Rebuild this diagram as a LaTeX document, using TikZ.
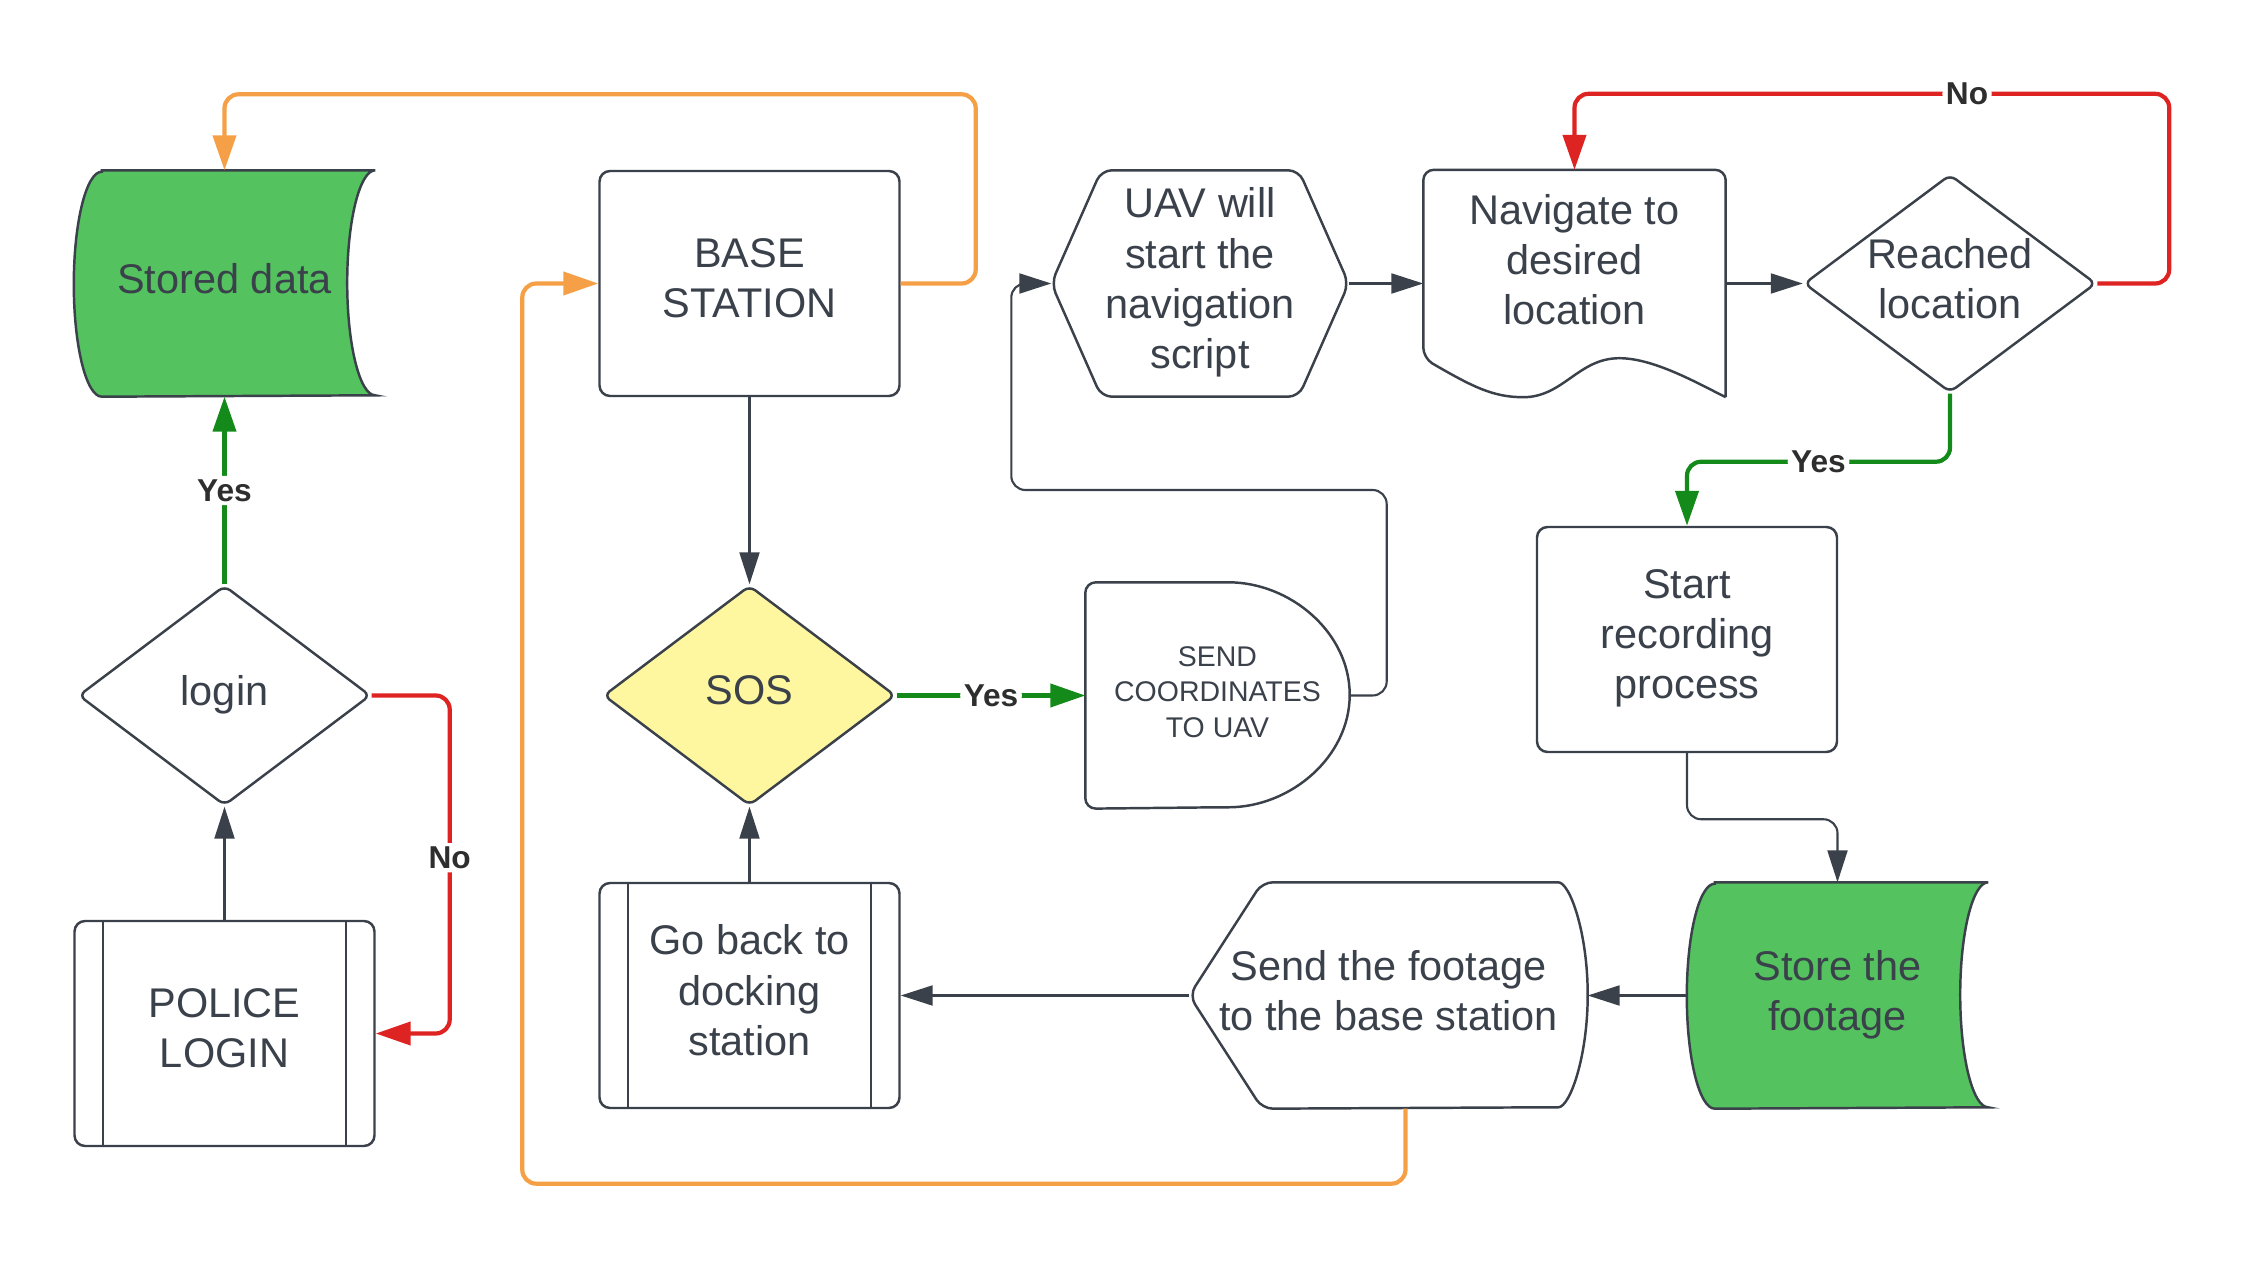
\documentclass[tikz,border=0pt]{standalone}
\usepackage{fontspec}
\setmainfont{Liberation Sans}
\usetikzlibrary{calc,shapes.geometric,arrows.meta,backgrounds}
\definecolor{ink}{HTML}{3A414A}
\definecolor{answerink}{HTML}{2E2E2E}
\definecolor{storegreen}{HTML}{54C25F}
\definecolor{sosyellow}{HTML}{FFF6A0}
\definecolor{flowgreen}{HTML}{148A1A}
\definecolor{flowred}{HTML}{DE2323}
\definecolor{floworange}{HTML}{F5A046}

\begin{document}
\begin{tikzpicture}
\tikzstyle{txt}=[align=center,text=ink,font=\fontsize{11.8}{14.3}\selectfont,inner sep=2pt,text depth=3pt]
\tikzstyle{blank}=[txt,minimum width=3cm,minimum height=2.25cm]
\tikzstyle{proc}=[blank,draw=ink,line width=0.7pt,rounded corners=3pt]
\tikzstyle{decision}=[txt,diamond,aspect=1.34,draw=ink,line width=0.7pt,rounded corners=2pt,minimum width=2.92cm,minimum height=2.2cm,inner sep=0pt]
\tikzstyle{outline}=[draw=ink,line width=0.7pt,rounded corners=3pt]
\tikzstyle{flow}=[draw=ink,line width=0.6pt,rounded corners=4pt,-{Triangle[length=3.2mm,width=2mm]}]
\tikzstyle{goflow}=[flow,draw=flowgreen,line width=1.2pt,-{Triangle[length=3.5mm,width=2.3mm]}]
\tikzstyle{noflow}=[flow,draw=flowred,line width=1.2pt,-{Triangle[length=3.5mm,width=2.3mm]}]
\tikzstyle{backflow}=[flow,draw=floworange,line width=1.2pt,-{Triangle[length=3.5mm,width=2.3mm]}]
\tikzstyle{answer}=[fill=white,inner sep=1pt,text=answerink,font=\bfseries\fontsize{9}{10}\selectfont]

\useasboundingbox (0,0) rectangle (22.48,-12.62);

% ========= login side
\node (sd) [blank] at (2.245,-2.835) {Stored data};
\node (lg) [decision] at (2.245,-6.955) {login};
\node (pl) [proc] at (2.245,-10.335) {POLICE\\LOGIN};
\draw [ink,line width=0.5pt] ([xshift=3mm]pl.north west) -- ([xshift=3mm]pl.south west);
\draw [ink,line width=0.5pt] ([xshift=-3mm]pl.north east) -- ([xshift=-3mm]pl.south east);

% ========= base station
\node (bs) [proc] at (7.495,-2.835) {BASE\\STATION};
\node (sos) [decision,fill=sosyellow] at (7.495,-6.955) {SOS};
\node (gb) [proc] at (7.495,-9.955) {Go back to\\docking\\station};
\draw [ink,line width=0.5pt] ([xshift=3mm]gb.north west) -- ([xshift=3mm]gb.south west);
\draw [ink,line width=0.5pt] ([xshift=-3mm]gb.north east) -- ([xshift=-3mm]gb.south east);

% ========= uav
\node (uav) [blank,minimum width=2.96cm] at (12.0,-2.835) {UAV will\\start the\\navigation\\script};
\draw [outline] (uav.west) -- ([xshift=5mm]uav.north west) -- ([xshift=-5mm]uav.north east) -- (uav.east)
  -- ([xshift=-5mm]uav.south east) -- ([xshift=5mm]uav.south west) -- cycle;

\node (sc) [blank,minimum width=2.63cm,font=\fontsize{8.1}{10.2}\selectfont,text depth=2pt] at (12.175,-6.955) {SEND\\COORDINATES\\TO UAV};
\draw [outline] (sc.north west) -- ([xshift=-1.32cm]sc.north east)
  arc[start angle=90,end angle=-90,x radius=1.32cm,y radius=1.125cm] -- (sc.south west) -- cycle;

\node (nav) [blank,minimum width=3.01cm,minimum height=2.26cm,text depth=4.8mm] at (15.745,-2.835) {Navigate to\\desired\\location};
\draw [outline] (nav.south east) -- (nav.north east) -- (nav.north west) -- ([yshift=3.9mm]nav.south west)
  [sharp corners] .. controls ([xshift=5mm,yshift=1mm]nav.south west) and ([xshift=7mm]nav.south west) .. ([xshift=1cm]nav.south west)
  .. controls ([xshift=1.4cm]nav.south west) and ([xshift=1.55cm,yshift=3.9mm]nav.south west) .. ([xshift=1.96cm,yshift=3.9mm]nav.south west)
  .. controls ([xshift=2.3cm,yshift=3.9mm]nav.south west) and ([xshift=-3mm,yshift=1.5mm]nav.south east) .. (nav.south east);

\node (rl) [decision,minimum height=2.18cm] at (19.5,-2.835) {Reached\\location};
\node (sr) [proc] at (16.87,-6.395) {Start\\recording\\process};
\node (sf) [blank] at (18.375,-9.955) {Store the\\footage};

\node (st) [blank,minimum width=3.97cm] at (13.885,-9.955) {Send the footage\\to the base station};
\draw [outline] (st.west) -- ([xshift=7.3mm]st.north west) -- ([xshift=-4mm]st.north east)
  arc[start angle=90,end angle=-90,x radius=4mm,y radius=1.125cm] -- ([xshift=7.3mm]st.south west) -- cycle;

% ====== stores
\begin{pgfonlayer}{background}
\draw [outline,fill=storegreen,rounded corners=0pt] ([xshift=2.8mm]sd.north west) -- (sd.north east)
  arc[start angle=90,end angle=270,x radius=2.8mm,y radius=1.125cm] -- ([xshift=2.8mm]sd.south west)
  arc[start angle=270,end angle=90,x radius=2.8mm,y radius=1.125cm] -- cycle;
\draw [outline,fill=storegreen,rounded corners=0pt] ([xshift=2.8mm]sf.north west) -- (sf.north east)
  arc[start angle=90,end angle=270,x radius=2.8mm,y radius=1.125cm] -- ([xshift=2.8mm]sf.south west)
  arc[start angle=270,end angle=90,x radius=2.8mm,y radius=1.125cm] -- cycle;
\end{pgfonlayer}

% ====== connections
\draw [goflow] (lg.north) -- node [answer] {Yes} (sd.south);
\draw [noflow] (lg.east) -- ++(0.78,0) |- node [answer,pos=0.24] {No} (pl.east);
\draw [flow] (pl.north) -- (lg.south);
\draw [flow] (bs.south) -- (sos.north);
\draw [flow] (gb.north) -- (sos.south);
\draw [goflow] (sos.east) -- node [answer] {Yes} (sc.west);
\draw [flow] (sc.east) -- ++(0.37,0) |- ($(uav.west)+(-0.4,-2.065)$) |- (uav.west);
\draw [flow] (uav.east) -- (nav.west);
\draw [flow] (nav.east) -- (rl.west);
\draw [noflow] (rl.east) -- ++(0.72,0) |- node [answer,pos=0.67] {No} ($(nav.north)+(0,0.76)$) -- (nav.north);
\draw [goflow] (rl.south) -- ++(0,-0.68) -| node [answer,pos=0.25] {Yes} (sr.north);
\draw [flow] (sr.south) -- ++(0,-0.66) -| (sf.north);
\draw [flow] (sf.west) -- (st.east);
\draw [flow] (st.west) -- (gb.east);
%% ===== back to base
\draw [backflow] (bs.east) -- ++(0.75,0) |- ($(sd.north)+(0,0.76)$) -- (sd.north);
\draw [backflow] ([xshift=1.7mm]st.south) -- ++(0,-0.75) -| ($(bs.west)+(-0.76,0)$) -- (bs.west);
\end{tikzpicture}
\end{document}
